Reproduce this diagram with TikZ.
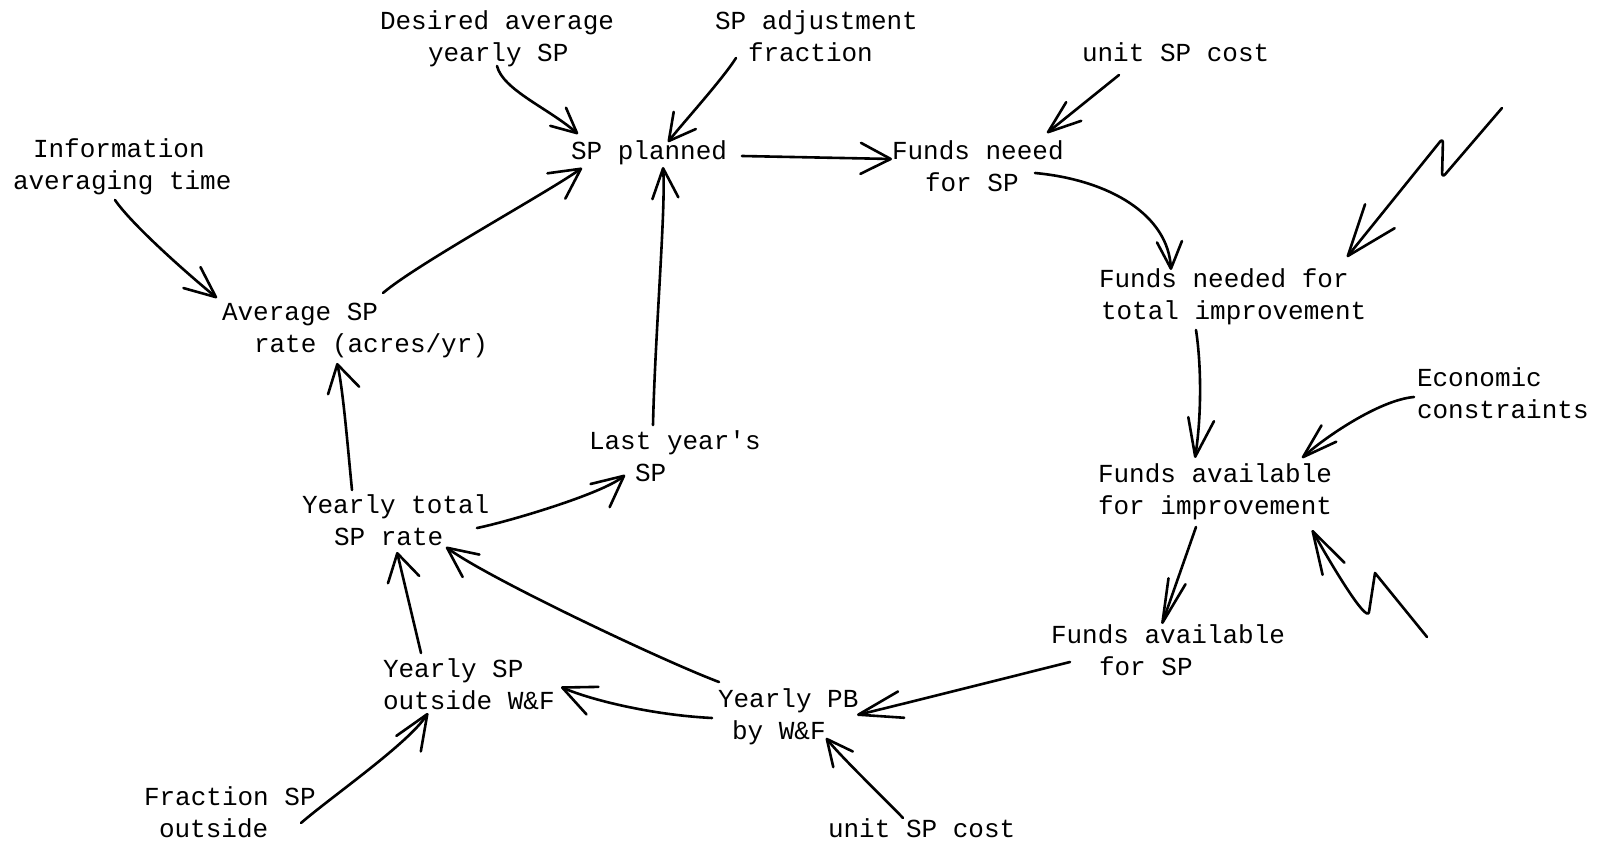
\documentclass[tikz,border=0pt]{standalone}
\usepackage{fontspec}
\usetikzlibrary{arrows.meta}
\newfontfamily\twfont{Liberation Mono}
\newcommand\tw{\twfont\fontsize{13pt}{16pt}\selectfont}
\tikzset{
  lbl/.style={anchor=north west, inner sep=0pt, outer sep=0pt, align=left, font=\tw},
  wire/.style={line width=1.3pt, line cap=round, line join=round},
  tipv/.style 2 args={-{Straight Barb[length=#1,width=#2,round]}},
}
\begin{document}
\begin{tikzpicture}[x=0.5pt,y=-0.5pt]
\path[use as bounding box] (0,0) rectangle (1606,844);

% labels (typewritten)
\node[lbl] (desired) at (380,7.6)   {\strut Desired average\\\hspace*{24pt}\strut yearly SP};
\node[lbl] (adjust)  at (715,7.6)   {\strut SP adjustment\\\hspace*{16.5pt}\strut fraction};
\node[lbl] (unitA)   at (1082,39.6) {\strut unit SP cost};
\node[lbl] (info)    at (13,135.6)  {\hspace*{10pt}\strut Information\\\strut averaging time};
\node[lbl] (planned) at (571,137.6) {\strut SP planned};
\node[lbl] (fneed)   at (892,137.6) {\strut Funds neeed\\\hspace*{16.5pt}\strut for SP};
\node[lbl] (fntot)   at (1099,265.6){\strut Funds needed for\\\hspace*{1pt}\strut total improvement};
\node[lbl] (avg)     at (222,298.6) {\strut Average SP\\\hspace*{16pt}\strut rate (acres/yr)};
\node[lbl] (econ)    at (1417,364.6){\strut Economic\\\strut constraints};
\node[lbl] (last)    at (589,426.6) {\strut Last year's\\\hspace*{23pt}\strut SP};
\node[lbl] (favimp)  at (1098,459.6){\strut Funds available\\\strut for improvement};
\node[lbl] (ytot)    at (302,490.6) {\strut Yearly total\\\hspace*{16pt}\strut SP rate};
\node[lbl] (favsp)   at (1051,620.6){\strut Funds available\\\hspace*{24pt}\strut for SP};
\node[lbl] (yout)    at (383,654.6) {\strut Yearly SP\\\strut outside W\&F};
\node[lbl] (ypb)     at (718,684.6) {\strut Yearly PB\\\hspace*{7pt}\strut by W\&F};
\node[lbl] (frac)    at (144,782.6) {\strut Fraction SP\\\hspace*{7.5pt}\strut outside};
\node[lbl] (unitB)   at (828,814.6) {\strut unit SP cost};

% free tails of the two zig-zag arrows
\coordinate (boltA) at (1502,108);
\coordinate (boltB) at (1427,637);

% connectors
\draw[wire,tipv={12.5pt}{12pt}] ([shift={(117,58.4)}]desired.north west) .. controls +(6,24) and +(-30,-26) .. ([shift={(7,-3.6)}]planned.north west);
\draw[wire,tipv={13pt}{14pt}] ([shift={(21,50.4)}]adjust.north west) .. controls +(-14,22) and +(14,-18) .. ([shift={(97,4.4)}]planned.north west);
\draw[wire,tipv={15pt}{15.5pt}] ([shift={(171,18.4)}]planned.north west) -- ([shift={(0,21.4)}]fneed.north west);
\draw[wire,tipv={16.5pt}{12pt}] ([shift={(37,35.4)}]unitA.north west) -- ([shift={(155,-4.6)}]fneed.north west);
\draw[wire,tipv={13.5pt}{12.5pt}] ([shift={(143,35.4)}]fneed.north west) .. controls +(75,7) and +(-3,-55) .. ([shift={(72,4.4)}]fntot.north west);
\draw[wire,rounded corners=2.5pt,tipv={25.5pt}{19pt}] (boltA) -- ++(-60,70) -- ++(1,-40) -- ([shift={(248,-8.6)}]fntot.north west);
\draw[wire,tipv={19pt}{13pt}] ([shift={(97,64.4)}]fntot.north west) .. controls +(6,40) and +(6,-38) .. ([shift={(97,-1.6)}]favimp.north west);
\draw[wire,tipv={17.5pt}{11pt}] ([shift={(-3,32.4)}]econ.north west) .. controls +(-35,3) and +(22,-20) .. ([shift={(204,-1.6)}]favimp.north west);
\draw[wire,tipv={21.5pt}{12.5pt}] (boltB) -- ++(-52,-64) -- ++(-6,39) .. controls +(-2,12) and +(20,36) .. ([shift={(214,70.4)}]favimp.north west);
\draw[wire,tipv={22pt}{9pt}] ([shift={(98,67.4)}]favimp.north west) -- ([shift={(111,3.4)}]favsp.north west);
\draw[wire,tipv={22pt}{13.5pt}] ([shift={(19,41.4)}]favsp.north west) .. controls +(-60,15) and +(34,-8) .. ([shift={(139,30.4)}]ypb.north west);
\draw[wire,tipv={16.5pt}{15pt}] ([shift={(-6,33.4)}]ypb.north west) .. controls +(-60,-3) and +(30,13) .. ([shift={(178,32.4)}]yout.north west);
\draw[wire,tipv={15pt}{14pt}] ([shift={(1,-2.6)}]ypb.north west) .. controls +(-56,-21) and +(40,30) .. ([shift={(144,56.4)}]ytot.north west);
\draw[wire,tipv={13.5pt}{16pt}] ([shift={(38,-1.6)}]yout.north west) -- ([shift={(95,61.4)}]ytot.north west);
\draw[wire,tipv={17.5pt}{14.5pt}] ([shift={(157,40.4)}]frac.north west) .. controls +(30,-26) and +(-19,30) .. ([shift={(45,58.4)}]yout.north west);
\draw[wire,tipv={13pt}{12.5pt}] ([shift={(75,3.4)}]unitB.north west) .. controls +(-16,-17) and +(16,20) .. ([shift={(108,53.4)}]ypb.north west);
\draw[wire,tipv={15.5pt}{15pt}] ([shift={(175,37.4)}]ytot.north west) .. controls +(30,-6) and +(-23,19) .. ([shift={(36,48.4)}]last.north west);
\draw[wire,tipv={13.5pt}{16pt}] ([shift={(50,-0.6)}]ytot.north west) .. controls +(-4,-40) and +(6,25) .. ([shift={(115,64.4)}]avg.north west);
\draw[wire,tipv={15pt}{13pt}] ([shift={(64,-1.6)}]last.north west) .. controls +(2,-90) and +(3,40) .. ([shift={(92,29.4)}]planned.north west);
\draw[wire,tipv={15pt}{15.5pt}] ([shift={(161,-5.6)}]avg.north west) .. controls +(34,-29) and +(-37,26) .. ([shift={(11,30.4)}]planned.north west);
\draw[wire,tipv={15.5pt}{13.5pt}] ([shift={(102,64.4)}]info.north west) .. controls +(17,25) and +(-27,-22) .. ([shift={(-5,-0.6)}]avg.north west);
\end{tikzpicture}
\end{document}
